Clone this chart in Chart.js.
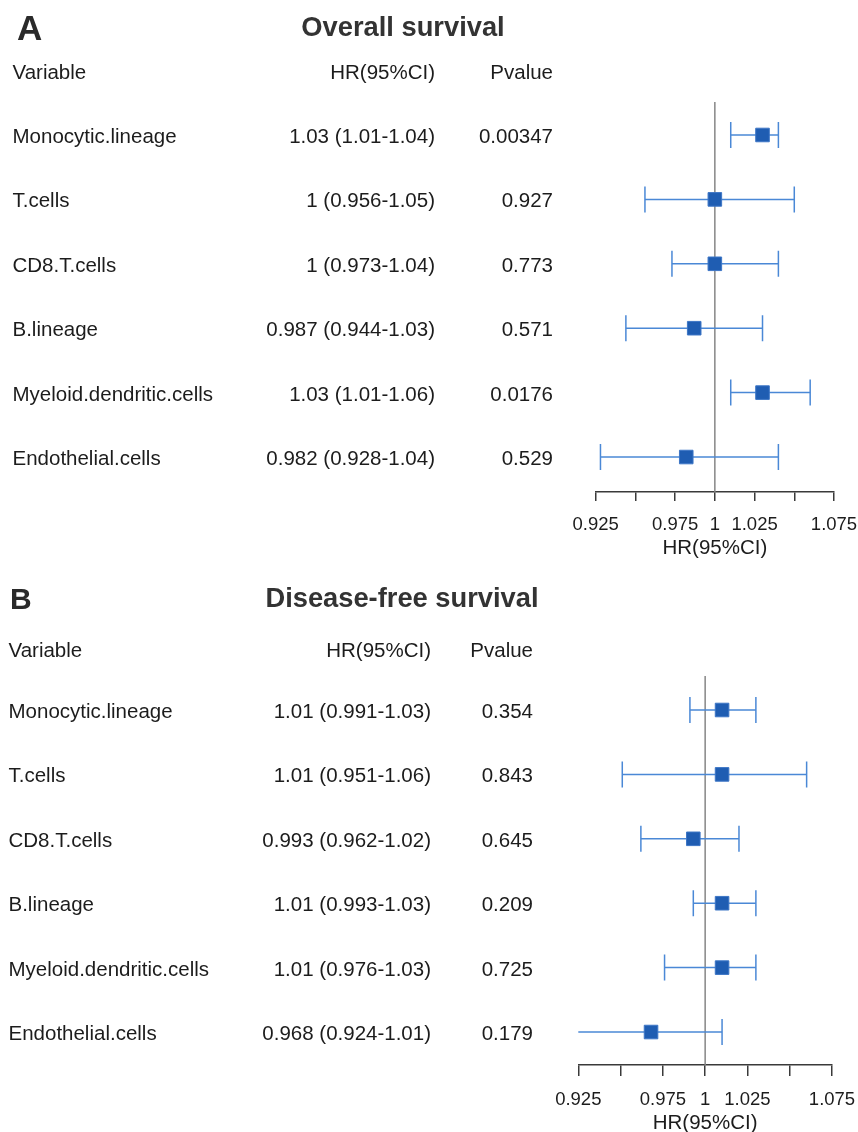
<!DOCTYPE html>
<html>
<head>
<meta charset="utf-8">
<script src="https://cdn.jsdelivr.net/npm/chart.js@4.4.1/dist/chart.umd.min.js"></script>
<style>
  html, body { margin: 0; padding: 0; background: #fff; }
  #page { position: relative; width: 858px; height: 1132px; overflow: hidden;
          font-family: "Liberation Sans", Arial, sans-serif; color: #1c1c1c; }
  #page canvas { position: absolute; left: 0; }
  .t { position: absolute; white-space: nowrap; line-height: 1; }
</style>
</head>
<body>
<div id="page">
  <canvas id="os" width="858" height="566" style="top:0px"></canvas>
  <canvas id="dfs" width="858" height="580" style="top:566px"></canvas>
</div>
<script>
// Cox regression results per immune / stromal cell population
const variables = ['Monocytic.lineage', 'T.cells', 'CD8.T.cells', 'B.lineage',
                   'Myeloid.dendritic.cells', 'Endothelial.cells'];

// Overall survival
const osHR    = [1.03, 1, 1, 0.987, 1.03, 0.982];
const osLower = [1.01, 0.956, 0.973, 0.944, 1.01, 0.928];
const osUpper = [1.04, 1.05, 1.04, 1.03, 1.06, 1.04];
const osP     = ['0.00347', '0.927', '0.773', '0.571', '0.0176', '0.529'];

// Disease-free survival
const dfsHR    = [1.01, 1.01, 0.993, 1.01, 1.01, 0.968];
const dfsLower = [0.991, 0.951, 0.962, 0.993, 0.976, 0.924];
const dfsUpper = [1.03, 1.06, 1.02, 1.03, 1.03, 1.01];
const dfsP     = ['0.354', '0.843', '0.645', '0.209', '0.725', '0.179'];

// HR axis
const tickValues = [0.925, 0.95, 0.975, 1, 1.025, 1.05, 1.075];
const tickLabels = ['0.925', '', '0.975', '1', '1.025', '', '1.075'];

const FONT = '"Liberation Sans", Arial, sans-serif';
const SQUARE = '#1f5db2';
const SQUARE_EDGE = '#3d76c6';
const CI_COLOR = '#4a88d6';
const REF_COLOR = '#868686';
const AXIS_COLOR = '#3a3a3a';
const TEXT_COLOR = '#1c1c1c';

function forest(canvasId, hr, lower, upper, g) {
  const rows = hr.map((_, i) => i + 1);
  const datasets = [];
  // point estimates
  datasets.push({
    type: 'scatter',
    data: hr.map((v, i) => ({ x: v, y: rows[i] })),
    pointStyle: 'rect', pointRadius: 9.6, pointHoverRadius: 9.6,
    backgroundColor: SQUARE, borderColor: SQUARE_EDGE, borderWidth: 1,
    order: 0
  });
  // confidence intervals with end caps
  rows.forEach((r, i) => {
    datasets.push({
      type: 'line',
      data: [{ x: lower[i], y: r }, { x: upper[i], y: r }],
      borderColor: CI_COLOR, borderWidth: 1.5,
      pointStyle: 'line', pointRotation: 90, pointRadius: 13, pointHoverRadius: 13,
      pointBorderColor: CI_COLOR, pointBorderWidth: 1.5,
      order: 1
    });
  });
  // reference line at HR = 1
  datasets.push({
    type: 'line',
    data: [{ x: 1, y: g.yMin }, { x: 1, y: g.yMax }],
    borderColor: REF_COLOR, borderWidth: 1.5, pointRadius: 0,
    order: 2
  });

  return new Chart(document.getElementById(canvasId), {
    type: 'scatter',
    data: { datasets },
    options: {
      responsive: false,
      animation: false,
      events: [],
      layout: { padding: { left: g.left, right: g.right, top: g.top, bottom: 0 } },
      plugins: { legend: { display: false }, tooltip: { enabled: false } },
      scales: {
        x: {
          type: 'linear', min: tickValues[0], max: tickValues[tickValues.length - 1],
          afterBuildTicks: s => { s.ticks = tickValues.map(v => ({ value: v })); },
          afterFit: s => {
            s.height = g.axisH;
            // end labels may overhang the plot; the layout padding already leaves room
            s.paddingLeft = 0;
            s.paddingRight = 0;
          },
          ticks: {
            callback: (v, i) => tickLabels[i],
            autoSkip: false, maxRotation: 0, minRotation: 0,
            padding: 13, color: TEXT_COLOR,
            font: { family: FONT, size: 18.5 }
          },
          grid: { display: true, drawOnChartArea: false, drawTicks: true,
                  tickLength: g.tickLen, color: AXIS_COLOR, lineWidth: 1.5 },
          border: { display: true, color: AXIS_COLOR, width: 1.5 },
          title: { display: true, text: 'HR(95%CI)', color: TEXT_COLOR,
                   font: { family: FONT, size: 20.5 },
                   padding: { top: 0, bottom: g.titlePad } }
        },
        y: { type: 'linear', reverse: true, min: g.yMin, max: g.yMax, display: false }
      }
    }
  });
}

const osChart = forest('os', osHR, osLower, osUpper,
  { left: 595.7, right: 24, top: 102, axisH: 74, tickLen: 9, titlePad: 5.7,
    yMin: 0.488, yMax: 6.543 });
const dfsChart = forest('dfs', dfsHR, dfsLower, dfsUpper,
  { left: 578.3, right: 26, top: 110, axisH: 81, tickLen: 11, titlePad: 10.7,
    yMin: 0.472, yMax: 6.512 });

// --- table text ---
const page = document.getElementById('page');
function put(text, x, baseline, o) {
  o = o || {};
  const size = o.size || 20.5;
  const el = document.createElement('div');
  el.className = 't';
  el.textContent = text;
  el.style.fontSize = size + 'px';
  el.style.fontWeight = o.bold ? '700' : '400';
  el.style.color = o.color || TEXT_COLOR;
  el.style.left = x + 'px';
  el.style.top = (baseline - 0.8465 * size) + 'px';
  if (o.align === 'right') el.style.transform = 'translateX(-100%)';
  if (o.align === 'center') el.style.transform = 'translateX(-50%)';
  page.appendChild(el);
}

function table(chart, offsetTop, hr, lower, upper, pvals, c) {
  put(c.letter, c.letterX, c.letterBase, { size: c.letterSize, bold: true, color: '#2a2a2a' });
  put(c.title, c.titleX, c.titleBase, { size: 27.3, bold: true, color: '#333', align: 'center' });
  put('Variable', c.labelX, c.headBase);
  put('HR(95%CI)', c.hrX, c.headBase, { align: 'right' });
  put('Pvalue', c.pX, c.headBase, { align: 'right' });
  variables.forEach((name, i) => {
    const base = offsetTop + chart.scales.y.getPixelForValue(i + 1) + 8.3;
    put(name, c.labelX, base);
    put(`${hr[i]} (${lower[i]}-${upper[i]})`, c.hrX, base, { align: 'right' });
    put(pvals[i], c.pX, base, { align: 'right' });
  });
}

table(osChart, 0, osHR, osLower, osUpper, osP,
  { letter: 'A', letterX: 17, letterBase: 39.5, letterSize: 35,
    title: 'Overall survival', titleX: 403, titleBase: 36,
    labelX: 12.5, hrX: 435, pX: 553, headBase: 79 });
table(dfsChart, 566, dfsHR, dfsLower, dfsUpper, dfsP,
  { letter: 'B', letterX: 10, letterBase: 609, letterSize: 30,
    title: 'Disease-free survival', titleX: 402, titleBase: 607,
    labelX: 8.5, hrX: 431, pX: 533, headBase: 657 });
</script>
</body>
</html>
